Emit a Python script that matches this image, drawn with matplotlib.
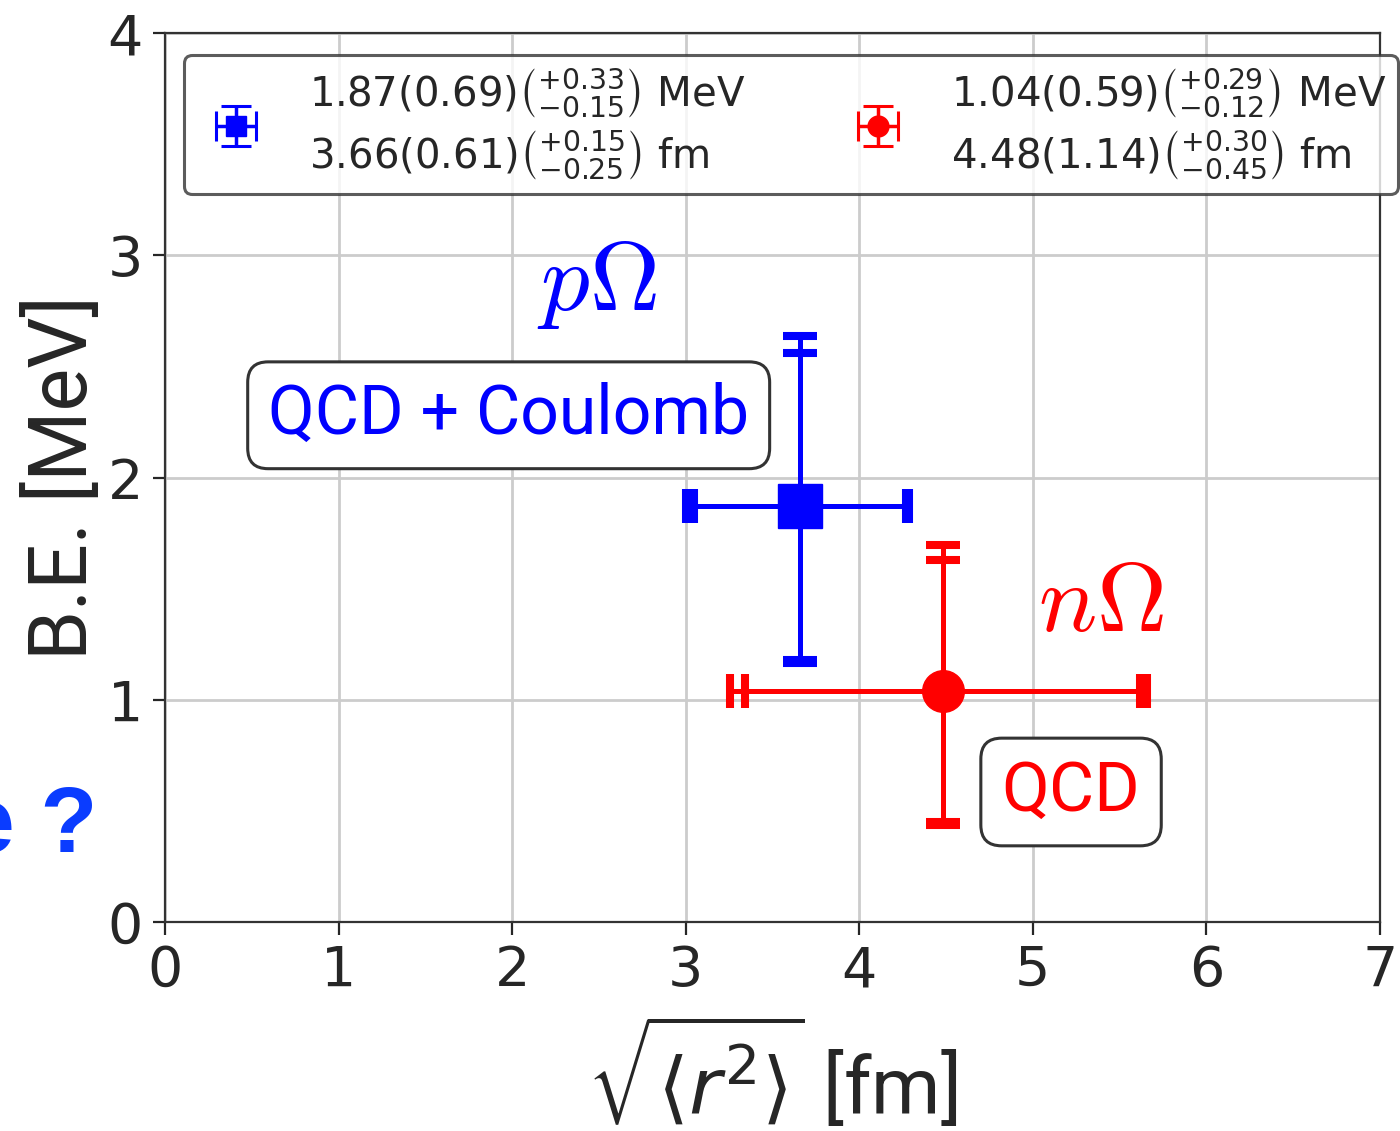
import numpy as np
import matplotlib.pyplot as plt

# binding energy [MeV] and rms radius [fm] with stat and (asym.) sys errors
states = ['pOmega', 'nOmega']
be = [1.87, 1.04]
be_stat = [0.69, 0.59]
be_sys_up = [0.33, 0.29]
be_sys_dn = [0.15, 0.12]
rad = [3.66, 4.48]
rad_stat = [0.61, 1.14]
rad_sys_up = [0.15, 0.30]
rad_sys_dn = [0.25, 0.45]
colors = ['#0000ff', '#ff0000']
markers = ['s', 'o']

legend_texts = [
    r'1.87(0.69)$\left({}^{+0.33}_{-0.15}\right)$ MeV' + '\n'
    + r'3.66(0.61)$\left({}^{+0.15}_{-0.25}\right)$ fm',
    r'1.04(0.59)$\left({}^{+0.29}_{-0.12}\right)$ MeV' + '\n'
    + r'4.48(1.14)$\left({}^{+0.30}_{-0.45}\right)$ fm',
]

plt.rcParams['mathtext.fontset'] = 'dejavusans'
dark = '#262626'

fig = plt.figure(figsize=(14, 11.31), dpi=100)
ax = fig.add_axes([0.11786, 0.18479, 0.86786, 0.78603])

handles = []
for i in range(len(states)):
    # total error = stat (+) sys in quadrature
    be_up = np.hypot(be_stat[i], be_sys_up[i])
    be_dn = np.hypot(be_stat[i], be_sys_dn[i])
    r_up = np.hypot(rad_stat[i], rad_sys_up[i])
    r_dn = np.hypot(rad_stat[i], rad_sys_dn[i])
    ax.errorbar([rad[i]], [be[i]], xerr=[[r_dn], [r_up]], yerr=[[be_dn], [be_up]],
                fmt='none', ecolor=colors[i], elinewidth=3.6, capsize=12.2,
                capthick=5.8, zorder=3)
    ax.errorbar([rad[i]], [be[i]], xerr=[[rad_stat[i]], [rad_stat[i]]],
                yerr=[[be_stat[i]], [be_stat[i]]], fmt=markers[i], color=colors[i],
                ms=31 if markers[i] == 's' else 30, elinewidth=3.6, capsize=12.2,
                capthick=5.8, zorder=4)
    # small proxy for the legend
    h = ax.errorbar([np.nan], [np.nan], xerr=[1], yerr=[1], fmt=markers[i],
                    color=colors[i], ms=15, elinewidth=2.5, capsize=11,
                    capthick=2.2)
    handles.append(h)

ax.set_xlim(0, 7)
ax.set_ylim(0, 4)
ax.set_xticks(range(0, 8))
ax.set_yticks(range(0, 5))
ax.grid(True, color='#cccccc', lw=2)
ax.set_axisbelow(True)
for s in ax.spines.values():
    s.set_color('#333333')
    s.set_linewidth(1.6)
ax.tick_params(labelsize=40, colors=dark, length=9, width=1.6, pad=7)

ax.text(2.49, 2.87, r'$p\Omega$', color=colors[0], fontsize=70,
        math_fontfamily='cm', ha='center', va='center')
ax.text(5.39, 1.43, r'$n\Omega$', color=colors[1], fontsize=70,
        math_fontfamily='cm', ha='center', va='center')

box = dict(boxstyle='round,pad=0.3', fc='white', ec='#333333', lw=2.2)
ax.text(1.98, 2.28, 'QCD + Coulomb', color=colors[0], fontsize=49,
        family='Roboto', ha='center', va='center', bbox=box)
ax.text(5.22, 0.585, 'QCD', color=colors[1], fontsize=50,
        family='Roboto', ha='center', va='center', bbox=box)

ax.set_ylabel('B.E. [MeV]', fontsize=58, family='Roboto', color=dark)
ax.yaxis.set_label_coords(-0.050, 0.5)
ax.set_xlabel(r'$\sqrt{\langle r^2\rangle}$ [fm]', fontsize=57, family='Roboto',
              color=dark)
ax.xaxis.set_label_coords(0.5, -0.1046)
ax.xaxis.label.set_va('top')

leg = ax.legend(handles, legend_texts, ncol=2, loc='upper left',
                bbox_to_anchor=(0.0156, 0.0, 0.9992, 0.975), mode='expand',
                borderaxespad=0, fontsize=29, frameon=True, fancybox=True,
                framealpha=0.8, edgecolor='#333333', borderpad=0.3,
                labelspacing=0.3, handletextpad=0.8, columnspacing=1.0)
leg.get_frame().set_linewidth(2.2)
for t in leg.get_texts():
    t.set_color(dark)
leg.set_zorder(10)

# clipped slide text on the left
fig.text(97 / 1400, 0.2467, 'e ?', fontsize=67, fontweight='bold',
         family='Liberation Sans', color='#0a3cff', ha='right', va='baseline')

fig.savefig('out.png', dpi=100)
